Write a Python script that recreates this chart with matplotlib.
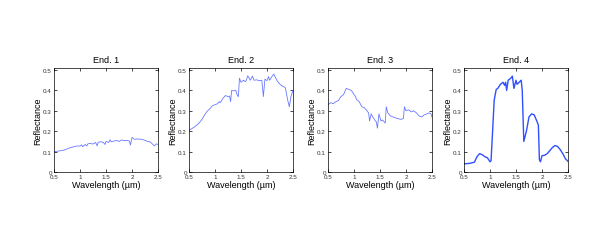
import matplotlib
matplotlib.use("Agg")
import matplotlib.pyplot as plt

plt.rcParams['font.family'] = ['Liberation Sans', 'DejaVu Sans']

# endmember spectra
wl1 = [0.5, 0.6, 0.7, 0.75, 0.8, 0.85, 0.9, 0.95, 1.0, 1.03, 1.05, 1.1, 1.13, 1.15, 1.2, 1.25, 1.3, 1.33, 1.35,
       1.4, 1.45, 1.48, 1.5, 1.55, 1.58, 1.6, 1.7, 1.75, 1.8, 1.85, 1.9, 1.95, 1.97, 2.0, 2.05, 2.1, 2.2, 2.3,
       2.35, 2.4, 2.43, 2.47, 2.5]
r1 = [0.100, 0.103, 0.108, 0.113, 0.118, 0.122, 0.125, 0.128, 0.127, 0.133, 0.124, 0.135, 0.128, 0.138, 0.140,
      0.137, 0.145, 0.128, 0.146, 0.148, 0.145, 0.135, 0.150, 0.145, 0.158, 0.148, 0.155, 0.150, 0.157, 0.154,
      0.155, 0.152, 0.132, 0.170, 0.160, 0.162, 0.160, 0.150, 0.148, 0.135, 0.128, 0.138, 0.135]

wl2 = [0.5, 0.55, 0.6, 0.65, 0.7, 0.75, 0.8, 0.85, 0.9, 0.95, 1.0, 1.05, 1.08, 1.1, 1.15, 1.2, 1.25, 1.28, 1.3,
       1.32, 1.35, 1.4, 1.43, 1.45, 1.47, 1.5, 1.55, 1.58, 1.6, 1.63, 1.68, 1.72, 1.75, 1.8, 1.85, 1.9, 1.93,
       1.96, 2.0, 2.03, 2.05, 2.1, 2.13, 2.17, 2.2, 2.25, 2.3, 2.35, 2.4, 2.43, 2.46, 2.5]
r2 = [0.205, 0.212, 0.220, 0.230, 0.242, 0.258, 0.280, 0.298, 0.310, 0.325, 0.330, 0.335, 0.345, 0.340, 0.360,
      0.375, 0.370, 0.372, 0.345, 0.400, 0.398, 0.400, 0.375, 0.370, 0.460, 0.440, 0.450, 0.443, 0.448, 0.472,
      0.450, 0.470, 0.450, 0.452, 0.448, 0.450, 0.370, 0.455, 0.448, 0.468, 0.450, 0.470, 0.480, 0.460, 0.445,
      0.430, 0.420, 0.415, 0.350, 0.320, 0.370, 0.400]

wl3 = [0.5, 0.55, 0.6, 0.65, 0.7, 0.75, 0.8, 0.85, 0.9, 0.95, 1.0, 1.03, 1.05, 1.1, 1.15, 1.2, 1.25, 1.28, 1.3,
       1.33, 1.36, 1.4, 1.43, 1.45, 1.48, 1.52, 1.55, 1.6, 1.62, 1.65, 1.7, 1.8, 1.9, 1.95, 1.97, 2.0, 2.05,
       2.1, 2.15, 2.2, 2.25, 2.3, 2.35, 2.4, 2.45, 2.48, 2.5]
r3 = [0.330, 0.340, 0.335, 0.345, 0.350, 0.370, 0.380, 0.410, 0.405, 0.400, 0.380, 0.370, 0.355, 0.345, 0.320,
      0.315, 0.300, 0.290, 0.250, 0.285, 0.270, 0.255, 0.245, 0.215, 0.285, 0.250, 0.255, 0.240, 0.320, 0.290,
      0.275, 0.265, 0.258, 0.262, 0.320, 0.300, 0.305, 0.295, 0.300, 0.290, 0.275, 0.270, 0.280, 0.285, 0.290,
      0.285, 0.270]

wl4 = [0.5, 0.6, 0.7, 0.75, 0.8, 0.85, 0.9, 0.95, 1.0, 1.02, 1.05, 1.08, 1.1, 1.12, 1.15, 1.2, 1.25, 1.28, 1.3,
       1.32, 1.35, 1.4, 1.43, 1.46, 1.5, 1.52, 1.56, 1.6, 1.62, 1.65, 1.7, 1.75, 1.8, 1.85, 1.9, 1.93, 1.95,
       1.97, 2.0, 2.05, 2.1, 2.2, 2.25, 2.3, 2.35, 2.4, 2.45, 2.5]
r4 = [0.040, 0.042, 0.048, 0.075, 0.090, 0.085, 0.075, 0.070, 0.050, 0.055, 0.200, 0.350, 0.380, 0.405, 0.410,
      0.430, 0.440, 0.425, 0.440, 0.400, 0.450, 0.460, 0.470, 0.410, 0.450, 0.430, 0.440, 0.450, 0.400, 0.150,
      0.200, 0.270, 0.285, 0.280, 0.250, 0.230, 0.060, 0.050, 0.080, 0.082, 0.090, 0.120, 0.130, 0.125, 0.110,
      0.090, 0.065, 0.052]

titles = ['End. 1', 'End. 2', 'End. 3', 'End. 4']
xticks = [0.5, 1, 1.5, 2, 2.5]
xtick_labels = ['0.5', '1', '1.5', '2', '2.5']
yticks = [0, 0.1, 0.2, 0.3, 0.4, 0.5]
ytick_labels = ['0', '0.1', '0.2', '0.3', '0.4', '0.5']

W, H = 598, 251
fig = plt.figure(figsize=(W / 100, H / 100), dpi=100)

lefts = [54, 189, 328, 464]
aw, top, bottom = 104, 69, 173
series = [(wl1, r1), (wl2, r2), (wl3, r3), (wl4, r4)]

for i, (x, y) in enumerate(series):
    ax = fig.add_axes([lefts[i] / W, 1 - bottom / H, aw / W, (bottom - top) / H])
    if i < 3:
        ax.plot(x, y, color='#6878ff', lw=0.6)
    else:
        ax.plot(x, y, color='#3050ff', lw=1.0)
    ax.set_xlim(0.5, 2.5)
    ax.set_ylim(0, 0.51)
    ax.set_xticks(xticks)
    ax.set_xticklabels(xtick_labels)
    ax.set_yticks(yticks)
    ax.set_yticklabels(ytick_labels)
    ax.tick_params(direction='in', length=2, width=0.5, labelsize=4.5, pad=1.5,
                   top=True, right=True, labelcolor='#333333')
    for s in ax.spines.values():
        s.set_linewidth(0.5)
    ax.set_title(titles[i], fontsize=6.5, pad=4)
    ax.set_xlabel('Wavelength (\u00b5m)', fontsize=6.5, labelpad=1)
    ax.set_ylabel('Reflectance', fontsize=6.5, labelpad=0.5)

fig.savefig('out.png', dpi=100)
